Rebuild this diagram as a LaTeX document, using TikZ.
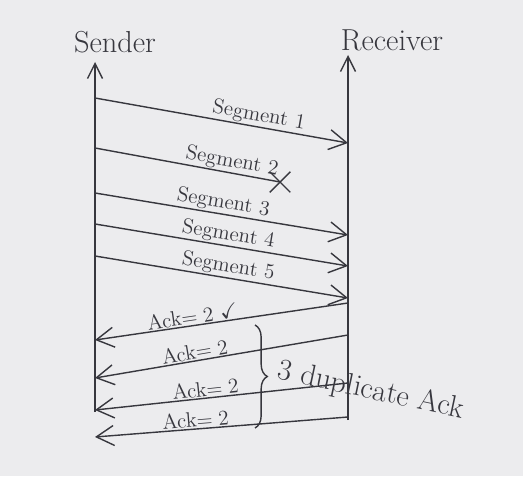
\documentclass[tikz,border=0pt]{standalone}
\usepackage{amssymb}
\usetikzlibrary{arrows.meta,decorations.pathreplacing,shapes.misc}
\definecolor{pen}{RGB}{55,55,62}
\definecolor{paper}{RGB}{236,236,238}
\tikzset{
  axis/.style={draw=pen,thick,-{Straight Barb[length=3mm,width=3mm]}},
  msg/.style={draw=pen,thick,-{Straight Barb[length=3.5mm,width=4mm]}},
  lbl/.style={text=pen,font=\large,sloped,above,inner sep=0.5pt}
}
\begin{document}
\begin{tikzpicture}[x=0.02cm,y=-0.02cm]
\fill[paper] (0,0) rectangle (523,476);
\useasboundingbox (0,0) rectangle (523,476);

\node[text=pen,font=\LARGE] (sender) at (115,42) {Sender};
\node[text=pen,font=\LARGE] (receiver) at (392,40) {Receiver};

\coordinate (sTop) at (95,62);
\coordinate (sBot) at (95,412);
\coordinate (rTop) at (348,55);
\coordinate (rBot) at (348,420);
\draw[axis] (sBot) -- (sTop);
\draw[axis] (rBot) -- (rTop);

% segments
\coordinate (s1) at (95,98);  \coordinate (r1) at (348,143);
\coordinate (s2) at (95,148);
\coordinate (s3) at (95,193); \coordinate (r3) at (348,235);
\coordinate (s4) at (95,224); \coordinate (r4) at (348,266);
\coordinate (s5) at (95,256); \coordinate (r5) at (348,298);
\node[draw=pen,thick,cross out,minimum size=11pt,inner sep=0pt] (lost) at (280,182) {};

\draw[msg] (s1) -- node[lbl,pos=0.64] (seg1) {Segment 1} (r1);
\draw[draw=pen,thick] (s2) -- node[lbl,pos=0.73] (seg2) {Segment 2} (lost.center);
\draw[msg] (s3) -- node[lbl,pos=0.5] (seg3) {Segment 3} (r3);
\draw[msg] (s4) -- node[lbl,pos=0.52] (seg4) {Segment 4} (r4);
\draw[msg] (s5) -- node[lbl,pos=0.52] (seg5) {Segment 5} (r5);

% acks
\coordinate (r6) at (348,303); \coordinate (s6) at (95,340);
\coordinate (r7) at (348,335); \coordinate (s7) at (95,378);
\coordinate (r8) at (348,383); \coordinate (s8) at (95,410);
\coordinate (r9) at (348,417); \coordinate (s9) at (95,437);
\draw[msg] (r6) -- node[lbl,pos=0.61] (ack1) {Ack$=2$ $\checkmark$} (s6);
\draw[msg] (r7) -- node[lbl,pos=0.6] (ack2) {Ack$=2$} (s7);
\draw[msg] (r8) -- node[lbl,pos=0.56] (ack3) {Ack$=2$} (s8);
\draw[msg] (r9) -- node[lbl,pos=0.6] (ack4) {Ack$=2$} (s9);

\coordinate (bTop) at (255,325);
\coordinate (bBot) at (255,428);
\draw[pen,thick,decorate,decoration={brace,amplitude=7pt}] (bTop) -- (bBot);
\node[text=pen,font=\LARGE,anchor=west,rotate=-12] (dup) at (272,370) {3 duplicate Ack};
\end{tikzpicture}
\end{document}
